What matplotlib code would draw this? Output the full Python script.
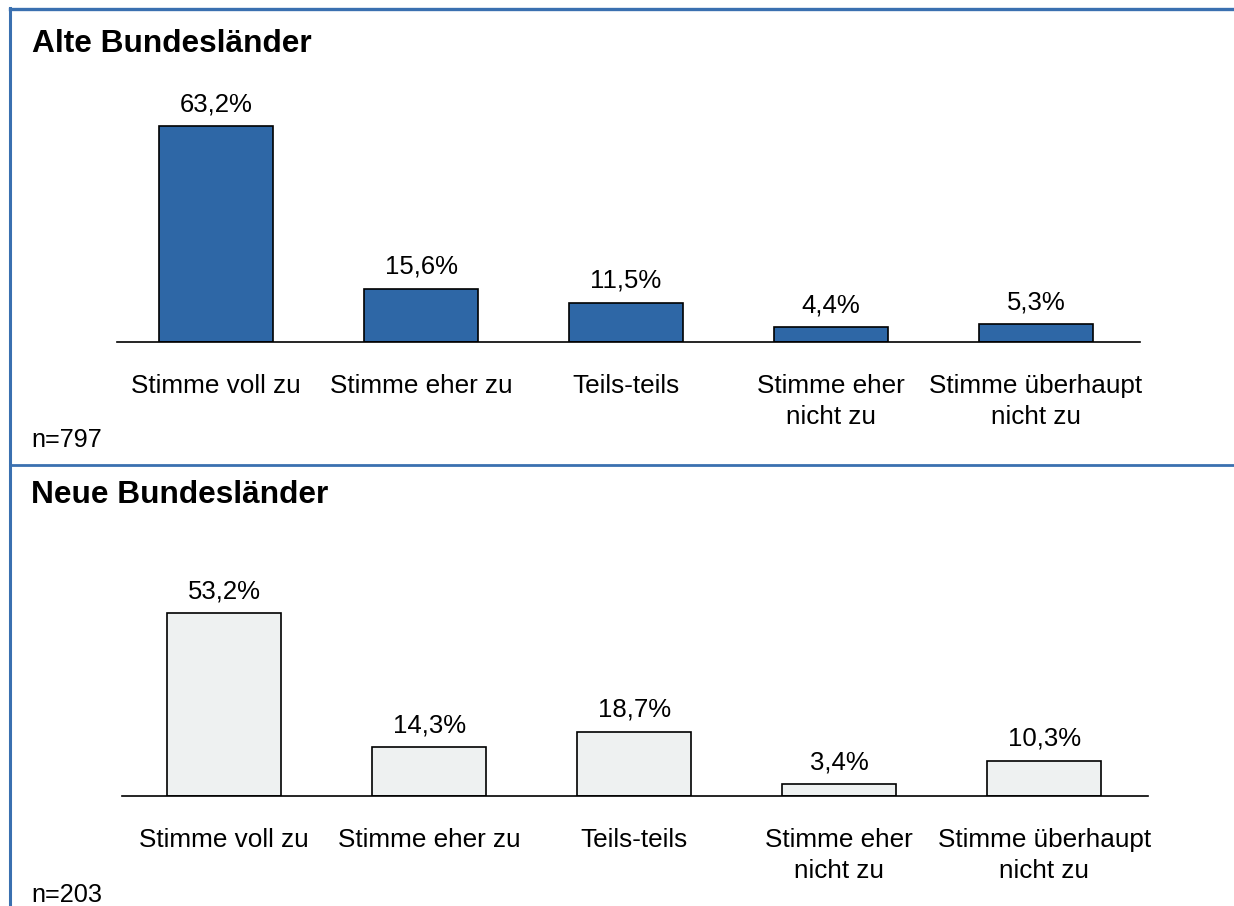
import matplotlib
matplotlib.use("Agg")
import matplotlib.pyplot as plt
from matplotlib.lines import Line2D

plt.rcParams["font.family"] = ["Liberation Sans", "DejaVu Sans"]

W, H = 1234, 906

kategorien = ["Stimme voll zu", "Stimme eher zu", "Teils-teils",
              "Stimme eher\nnicht zu", "Stimme überhaupt\nnicht zu"]
alte = [63.2, 15.6, 11.5, 4.4, 5.3]
neue = [53.2, 14.3, 18.7, 3.4, 10.3]
titel = ["Alte Bundesländer", "Neue Bundesländer"]
n_werte = ["n=797", "n=203"]

fig = plt.figure(figsize=(W / 100, H / 100), dpi=100)


def px_axes(left, right, base, top):
    # pixel box (y from top) -> figure fraction
    return fig.add_axes([left / W, 1 - base / H, (right - left) / W, (base - top) / H])


def panel(ax, werte, farbe, xlim, ylim):
    x = range(len(werte))
    ax.bar(x, werte, width=0.556, color=farbe, edgecolor="black", linewidth=1.2, zorder=2)
    for xi, v in zip(x, werte):
        ax.annotate(f"{v:.1f}%".replace(".", ","), (xi, v), xytext=(0, 7),
                    textcoords="offset points", ha="center", va="bottom", fontsize=18.5)
    ax.set_xlim(*xlim)
    ax.set_ylim(*ylim)
    ax.set_xticks(list(x), kategorien, fontsize=18.8, linespacing=1.36)
    ax.tick_params(axis="x", length=0, pad=23)
    ax.set_yticks([])
    for s in ["top", "left", "right"]:
        ax.spines[s].set_visible(False)
    ax.spines["bottom"].set_linewidth(1.2)
    ax.spines["bottom"].set_zorder(3)
    ax.patch.set_alpha(0)


ax1 = px_axes(117, 1140, 342, 342 - 70 * 3.42)
panel(ax1, alte, "#2E67A6", (-0.483, 4.507), (0, 70))

ax2 = px_axes(122, 1148, 796, 796 - 70 * 3.44)
panel(ax2, neue, "#EEF1F1", (-0.498, 4.507), (0, 70))

# Rahmenlinien
blau = "#3A70B0"
fig.add_artist(Line2D([10.5 / W, 10.5 / W], [1 - 8 / H, 0], color=blau, lw=2.2))
fig.add_artist(Line2D([10 / W, 1], [1 - 9 / H, 1 - 9 / H], color=blau, lw=2.4))
fig.add_artist(Line2D([10 / W, 1], [1 - 464.5 / H, 1 - 464.5 / H], color=blau, lw=2.0))

# Titel und Fallzahlen
fig.text(32 / W, 1 - 52 / H, titel[0], fontsize=22.8, fontweight="bold", va="baseline")
fig.text(31 / W, 1 - 503 / H, titel[1], fontsize=22.8, fontweight="bold", va="baseline")
fig.text(31 / W, 1 - 447 / H, n_werte[0], fontsize=18.2, va="baseline")
fig.text(31 / W, 1 - 902 / H, n_werte[1], fontsize=18.2, va="baseline")

fig.savefig("out.png", dpi=100)
